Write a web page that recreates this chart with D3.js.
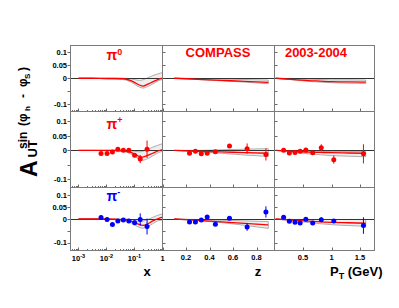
<!DOCTYPE html>
<html>
<head>
<meta charset="utf-8">
<script src="https://cdn.jsdelivr.net/npm/d3@7"></script>
<style>
  body { margin: 0; background: #fff; }
  svg { display: block; font-family: "Liberation Sans", Arial, Helvetica, sans-serif; }
</style>
</head>
<body>
<main></main>
<script>
(function(){
  //measured kinematic bins
  const xBins = [0.0064, 0.0105, 0.0163, 0.0255, 0.040, 0.063, 0.101, 0.160, 0.281];
  const zBins = [0.23, 0.28, 0.33, 0.38, 0.45, 0.57, 0.72, 0.88];
  const ptBins = [0.16, 0.26, 0.36, 0.45, 0.55, 0.67, 0.82, 1.04, 1.56];

  //asymmetries
  const piPlusX = [-0.011, -0.011, -0.006, 0.004, 0.0, 0.0, -0.017, -0.030, 0.004];
  const piPlusXErr = [0.005, 0.005, 0.004, 0.004, 0.004, 0.005, 0.007, 0.014, 0.030];
  const piMinusX = [0.006, -0.002, -0.023, -0.008, -0.004, -0.008, -0.016, -0.002, -0.032];
  const piMinusXErr = [0.010, 0.006, 0.006, 0.006, 0.006, 0.007, 0.010, 0.026, 0.034];
  const piPlusZ = [-0.010, -0.003, -0.012, -0.010, -0.005, 0.015, 0.006, -0.014];
  const piPlusZErr = [0.004, 0.004, 0.004, 0.004, 0.005, 0.007, 0.018, 0.021];
  const piMinusZ = [-0.013, -0.013, -0.004, 0.008, -0.022, 0.003, -0.034, 0.030];
  const piMinusZErr = [0.005, 0.005, 0.005, 0.006, 0.008, 0.008, 0.016, 0.024];
  const piPlusPt = [0.0, -0.009, -0.007, -0.003, 0.001, -0.008, 0.009, -0.032, -0.012];
  const piPlusPtErr = [0.004, 0.004, 0.004, 0.004, 0.005, 0.005, 0.012, 0.014, 0.033];
  const piMinusPt = [0.007, -0.010, -0.014, -0.017, -0.001, -0.017, -0.003, -0.008, -0.028];
  const piMinusPtErr = [0.005, 0.005, 0.005, 0.005, 0.006, 0.006, 0.010, 0.008, 0.035];

  //model curves (central value and band edges)
  const xCurve = [0.001, 0.003, 0.01, 0.02, 0.04, 0.07, 0.1, 0.15, 0.2, 0.3, 0.45, 0.65, 1.0];
  const pi0XMid = [0, 0, -0.001, -0.001, -0.002, -0.008, -0.016, -0.026, -0.030, -0.023, -0.014, -0.006, 0];
  const pi0XHi = [0, 0, 0, 0, 0, -0.002, -0.005, -0.008, -0.006, 0.002, 0.010, 0.016, 0.022];
  const pi0XLo = [0, 0, -0.002, -0.003, -0.005, -0.013, -0.023, -0.034, -0.038, -0.032, -0.022, -0.012, -0.004];
  const piPlusXMid = [0, 0, 0, 0, -0.002, -0.006, -0.012, -0.021, -0.023, -0.017, -0.010, -0.003, 0.003];
  const piPlusXHi = [0, 0, 0, 0, 0, -0.001, -0.003, -0.005, -0.003, 0.004, 0.011, 0.017, 0.023];
  const piPlusXLo = [0, 0, -0.001, -0.002, -0.004, -0.011, -0.020, -0.030, -0.034, -0.028, -0.019, -0.010, -0.003];
  const piMinusXMid = [0, 0, 0, -0.001, -0.003, -0.008, -0.014, -0.024, -0.027, -0.020, -0.008, 0, 0.008];
  const piMinusXHi = [0, 0, 0, 0, 0, -0.002, -0.005, -0.010, -0.009, -0.002, 0.007, 0.015, 0.022];
  const piMinusXLo = [0, 0, -0.001, -0.003, -0.006, -0.014, -0.024, -0.036, -0.039, -0.032, -0.020, -0.009, -0.004];

  const zCurve = [0.1, 0.3, 0.5, 0.7, 0.9];
  const pi0ZMid = [0, -0.004, -0.008, -0.012, -0.016];
  const pi0ZHi = [0, -0.001, -0.003, -0.005, -0.007];
  const pi0ZLo = [0, -0.005, -0.010, -0.015, -0.021];
  const piPlusZMid = [0, -0.003, -0.005, -0.008, -0.010];
  const piPlusZHi = [0, 0, 0.002, 0.004, 0.006];
  const piPlusZLo = [0, -0.005, -0.010, -0.016, -0.021];
  const piMinusZMid = [0, -0.006, -0.012, -0.019, -0.025];
  const piMinusZHi = [0, -0.002, -0.005, -0.008, -0.011];
  const piMinusZLo = [0, -0.007, -0.015, -0.027, -0.040];

  const ptCurve = [0.02, 0.2, 0.4, 0.6, 0.8, 1.0, 1.3, 1.6];
  const pi0PtMid = [0, -0.003, -0.006, -0.009, -0.011, -0.013, -0.014, -0.015];
  const pi0PtHi = [0, -0.001, -0.003, -0.004, -0.005, -0.006, -0.006, -0.007];
  const pi0PtLo = [0, -0.004, -0.008, -0.012, -0.015, -0.017, -0.019, -0.020];
  const piPlusPtMid = [0, -0.002, -0.004, -0.006, -0.007, -0.008, -0.009, -0.010];
  const piPlusPtHi = [0, -0.001, -0.002, -0.003, -0.003, -0.004, -0.004, -0.004];
  const piPlusPtLo = [0, -0.004, -0.008, -0.012, -0.015, -0.018, -0.020, -0.022];
  const piMinusPtMid = [0, -0.003, -0.006, -0.009, -0.012, -0.014, -0.016, -0.018];
  const piMinusPtHi = [0, -0.001, -0.002, -0.002, -0.002, -0.002, -0.002, -0.002];
  const piMinusPtLo = [0, -0.005, -0.010, -0.015, -0.020, -0.024, -0.028, -0.031];

  //tick values
  const yTicks = [-0.1, -0.05, 0, 0.05, 0.1];
  const yTickLabels = [
    {v: 0.1, t: "0.1"}, {v: 0.05, t: "0.05"}, {v: 0, t: "0"}, {v: -0.1, t: "-0.1"}
  ];
  const xDecades = [-3, -2, -1, 0];
  const zTicks = [0.2, 0.4, 0.6, 0.8];
  const ptTicks = [0.5, 1, 1.5];

  const width = 399, height = 308;
  const red = "#ff0000", blue = "#0000ff";

  const svg = d3.select("main")
    .append("svg")
    .attr("width", width)
    .attr("height", height);

  svg.append("rect").attr("width", width).attr("height", height).attr("fill", "#fff");

  //panel grid: 3 columns (x, z, pT) by 3 rows (pi0, pi+, pi-)
  const cols = [
    d3.scaleLog().domain([5.2e-4, 1]).range([70.5, 162.5]),
    d3.scaleLinear().domain([0, 0.953]).range([162.5, 274.5]),
    d3.scaleLinear().domain([0, 1.754]).range([274.5, 374.5])
  ];
  const rows = [
    d3.scaleLinear().domain([-0.128, 0.126]).range([111.5, 45.5]),
    d3.scaleLinear().domain([-0.128, 0.134]).range([187.5, 111.5]),
    d3.scaleLinear().domain([-0.134, 0.134]).range([250.5, 187.5])
  ];

  const theory = [
    [[xCurve, pi0XMid, pi0XLo, pi0XHi], [zCurve, pi0ZMid, pi0ZLo, pi0ZHi], [ptCurve, pi0PtMid, pi0PtLo, pi0PtHi]],
    [[xCurve, piPlusXMid, piPlusXLo, piPlusXHi], [zCurve, piPlusZMid, piPlusZLo, piPlusZHi], [ptCurve, piPlusPtMid, piPlusPtLo, piPlusPtHi]],
    [[xCurve, piMinusXMid, piMinusXLo, piMinusXHi], [zCurve, piMinusZMid, piMinusZLo, piMinusZHi], [ptCurve, piMinusPtMid, piMinusPtLo, piMinusPtHi]]
  ];
  const points = [
    null,
    [[xBins, piPlusX, piPlusXErr], [zBins, piPlusZ, piPlusZErr], [ptBins, piPlusPt, piPlusPtErr]],
    [[xBins, piMinusX, piMinusXErr], [zBins, piMinusZ, piMinusZErr], [ptBins, piMinusPt, piMinusPtErr]]
  ];
  const pointColor = [red, red, blue];

  rows.forEach(function(yScale, r){
    cols.forEach(function(xScale, c){
      const g = svg.append("g").attr("class", "panel");
      const [x0, x1] = xScale.range();
      const [y1, y0] = yScale.range();

      //band + central curve
      const t = theory[r][c];
      const band = t[0].map((v, i) => ({x: v, lo: t[2][i], hi: t[3][i], mid: t[1][i]}));
      g.append("path")
        .datum(band)
        .attr("d", d3.area().curve(d3.curveMonotoneX)
          .x(d => xScale(d.x)).y0(d => yScale(d.lo)).y1(d => yScale(d.hi)))
        .attr("fill", "#eeeeee")
        .attr("stroke", "#9a9a9a")
        .attr("stroke-width", 0.8);

      //zero line
      g.append("line")
        .attr("x1", x0).attr("x2", x1)
        .attr("y1", Math.round(yScale(0)) + 0.5).attr("y2", Math.round(yScale(0)) + 0.5)
        .attr("stroke", "#333").attr("stroke-width", 1);

      g.append("path")
        .datum(band)
        .attr("d", d3.line().curve(d3.curveMonotoneX).x(d => xScale(d.x)).y(d => yScale(d.mid)))
        .attr("fill", "none")
        .attr("stroke", red)
        .attr("stroke-width", 1.3);

      //data points with error bars
      if (points[r]){
        const p = points[r][c];
        const data = p[0].map((v, i) => ({x: v, y: p[1][i], e: p[2][i]}));
        g.selectAll(".err")
          .data(data)
          .enter().append("line")
          .attr("x1", d => xScale(d.x)).attr("x2", d => xScale(d.x))
          .attr("y1", d => yScale(d.y - d.e)).attr("y2", d => yScale(d.y + d.e))
          .attr("stroke", pointColor[r]).attr("stroke-width", 1);
        g.selectAll(".dot")
          .data(data)
          .enter().append("circle")
          .attr("cx", d => xScale(d.x)).attr("cy", d => yScale(d.y))
          .attr("r", 2.5)
          .attr("fill", pointColor[r]);
      }

      //y ticks on left edge
      g.selectAll(".ytick")
        .data(yTicks)
        .enter().append("line")
        .attr("x1", c == 0 ? x0 - 3 : x0).attr("x2", c == 0 ? x0 : x0 + 3)
        .attr("y1", d => Math.round(yScale(d)) + 0.5).attr("y2", d => Math.round(yScale(d)) + 0.5)
        .attr("stroke", "#444").attr("stroke-width", 0.8);

      //x ticks on bottom edge
      let xt = [];
      if (c == 0){
        xDecades.forEach(function(p){
          xt.push({v: Math.pow(10, p), len: 3});
          if (p < 0){
            for (let m = 2; m < 10; m++) xt.push({v: m * Math.pow(10, p), len: 1.5});
          }
        });
        for (let m = 6; m < 10; m++) xt.push({v: m * 1e-4, len: 1.5});
      } else {
        xt = (c == 1 ? zTicks : ptTicks).map(v => ({v: v, len: 3}));
      }
      g.selectAll(".xtick")
        .data(xt)
        .enter().append("line")
        .attr("x1", d => Math.round(xScale(d.v)) + 0.5).attr("x2", d => Math.round(xScale(d.v)) + 0.5)
        .attr("y1", y1).attr("y2", d => y1 - d.len)
        .attr("stroke", "#444").attr("stroke-width", 0.8);

      //frame
      g.append("rect")
        .attr("x", x0).attr("y", y0)
        .attr("width", x1 - x0).attr("height", y1 - y0)
        .attr("fill", "none")
        .attr("stroke", "#7a7a7a").attr("stroke-width", 1);
    });

    //y tick labels on the left column
    svg.selectAll(null)
      .data(yTickLabels)
      .enter().append("text")
      .attr("x", 67)
      .attr("y", d => yScale(d.v))
      .attr("dy", "0.36em")
      .attr("text-anchor", "end")
      .style("font-size", "7.5px")
      .style("font-weight", "bold")
      .text(d => d.t);
  });

  //x tick labels
  const labelY = 261;
  xDecades.forEach(function(p){
    const tx = svg.append("text")
      .attr("x", cols[0](Math.pow(10, p)))
      .attr("y", labelY)
      .attr("text-anchor", "middle")
      .style("font-size", "7.5px")
      .style("font-weight", "bold");
    if (p == 0){
      tx.text("1");
    } else {
      tx.append("tspan").text("10");
      tx.append("tspan").attr("dy", -3.5).style("font-size", "5.5px").text(p);
    }
  });
  svg.selectAll(null)
    .data(zTicks)
    .enter().append("text")
    .attr("x", d => cols[1](d)).attr("y", labelY - 1)
    .attr("text-anchor", "middle")
    .style("font-size", "7.5px").style("font-weight", "bold")
    .text(d => d);
  svg.selectAll(null)
    .data(ptTicks)
    .enter().append("text")
    .attr("x", d => cols[2](d)).attr("y", labelY - 1)
    .attr("text-anchor", "middle")
    .style("font-size", "7.5px").style("font-weight", "bold")
    .text(d => d);

  //axis titles
  svg.append("text").attr("x", 147).attr("y", 275.5).attr("text-anchor", "middle")
    .style("font-size", "13px").style("font-weight", "bold").text("x");
  svg.append("text").attr("x", 258).attr("y", 275.5).attr("text-anchor", "middle")
    .style("font-size", "13px").style("font-weight", "bold").text("z");
  const ptTitle = svg.append("text").attr("x", 330).attr("y", 275.5)
    .style("font-size", "13px").style("font-weight", "bold");
  ptTitle.append("tspan").text("P");
  ptTitle.append("tspan").attr("dy", 3).style("font-size", "9px").text("T");
  ptTitle.append("tspan").attr("dy", -3).text(" (GeV)");

  //y title, rotated
  svg.append("text")
    .attr("transform", "translate(37,177) rotate(-90)")
    .style("font-size", "23px").style("font-weight", "bold")
    .text("A");
  svg.append("text")
    .attr("transform", "translate(36.5,157.5) rotate(-90)")
    .style("font-size", "13px").style("font-weight", "bold")
    .text("UT");
  const sup = svg.append("text")
    .attr("transform", "translate(27,149) rotate(-90)")
    .style("font-size", "12px").style("font-weight", "bold");
  sup.append("tspan").attr("x", 0).text("sin");
  sup.append("tspan").attr("x", 23).text("(\u03c6");
  sup.append("tspan").attr("x", 38).attr("dy", 3).style("font-size", "8px").text("h");
  sup.append("tspan").attr("x", 51).attr("dy", -3).text("-");
  sup.append("tspan").attr("x", 62).text("\u03c6");
  sup.append("tspan").attr("x", 70).attr("dy", 3).style("font-size", "8px").text("S");
  sup.append("tspan").attr("x", 78).attr("dy", -3).text(")");

  //particle and experiment labels
  const pLabels = [
    {t: "0", y: 60, c: red},
    {t: "+", y: 128.5, c: red},
    {t: "-", y: 200.5, c: blue}
  ];
  pLabels.forEach(function(d){
    const tx = svg.append("text").attr("x", 106.5).attr("y", d.y)
      .attr("fill", d.c).style("font-size", "14px").style("font-weight", "bold");
    tx.append("tspan").text("\u03c0");
    tx.append("tspan").attr("dy", -5.5).style("font-size", "9px").text(d.t);
  });
  svg.append("text").attr("x", 218).attr("y", 57.3).attr("text-anchor", "middle")
    .attr("fill", red).style("font-size", "13px").style("font-weight", "bold").text("COMPASS");
  svg.append("text").attr("x", 316).attr("y", 57.3).attr("text-anchor", "middle")
    .attr("fill", red).style("font-size", "13px").style("font-weight", "bold").text("2003-2004");
})();
</script>
</body>
</html>
